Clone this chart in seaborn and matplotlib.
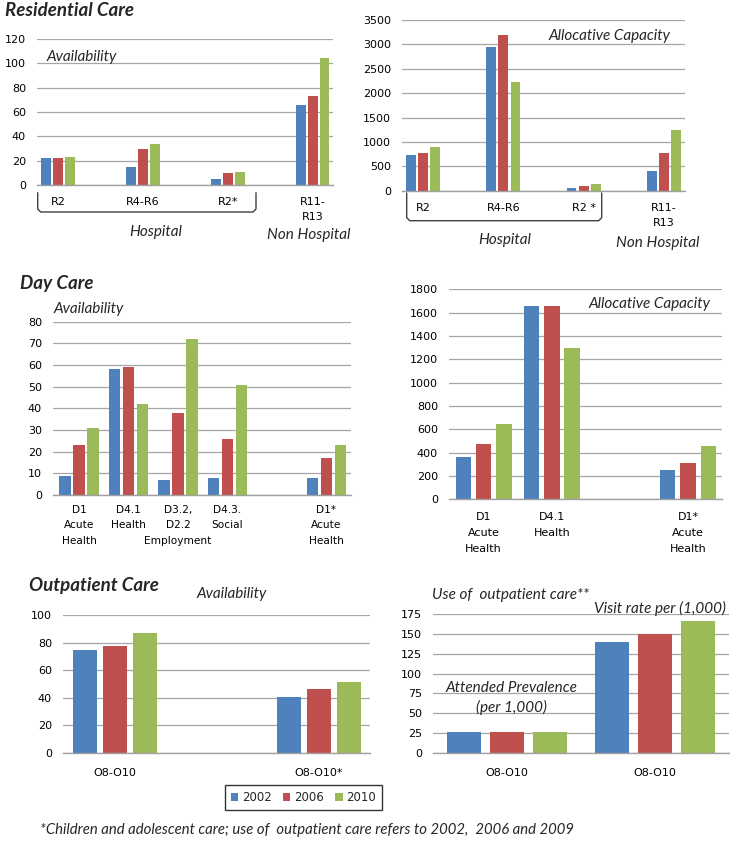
import numpy as np
import pandas as pd
import seaborn as sns
import matplotlib
matplotlib.use("Agg")
import matplotlib.pyplot as plt
from matplotlib.lines import Line2D
from matplotlib.patches import Patch

# ---------------- data ----------------
YEARS = ["2002", "2006", "2010"]
COLORS = ["#4F81BD", "#C0504D", "#9BBB59"]

res_cats = ["R2", "R4-R6", "R2*", "R11-R13"]
res_ticks = ["R2", "R4-R6", "R2*", "R11-\nR13"]
res_cap_ticks = ["R2", "R4-R6", "R2 *", "R11-\nR13"]
res_avail_2002 = [22, 15, 5, 66]
res_avail_2006 = [22, 30, 10, 73.5]
res_avail_2010 = [23, 34, 11, 104.5]
res_cap_2002 = [730, 2950, 50, 410]
res_cap_2006 = [780, 3200, 95, 780]
res_cap_2010 = [890, 2220, 145, 1240]

day_cats = ["D1", "D4.1", "D3.2", "D4.3", "D1*"]
day_order = ["D1", "D4.1", "D3.2", "D4.3", "_blank", "D1*"]
day_ticks = ["D1\nAcute\nHealth", "D4.1\nHealth", "D3.2,\nD2.2\nEmployment",
             "D4.3.\nSocial", "", "D1*\nAcute\nHealth"]
day_avail_2002 = [9, 58, 7, 8, 8]
day_avail_2006 = [23, 59, 38, 26, 17]
day_avail_2010 = [31, 42, 72, 51, 23]

dayc_cats = ["D1", "D4.1", "D1*"]
dayc_order = ["D1", "D4.1", "_blank", "D1*"]
dayc_ticks = ["D1\nAcute\nHealth", "D4.1\nHealth", "", "D1*\nAcute\nHealth"]
day_cap_2002 = [360, 1655, 250]
day_cap_2006 = [475, 1655, 310]
day_cap_2010 = [645, 1300, 455]

out_cats = ["O8-O10", "O8-O10*"]
out_ticks = ["O8-O10", "O8-O10*"]
out_avail_2002 = [74.5, 40.5]
out_avail_2006 = [77.5, 46.5]
out_avail_2010 = [87, 51]

use_cats = ["Prevalence", "Visits"]
use_ticks = ["O8-O10", "O8-O10"]
use_2002 = [26, 140]
use_2006 = [26, 150]
use_2010 = [26, 166]

# ---------------- style ----------------
sns.set_style("white")
plt.rcParams["font.family"] = ["DejaVu Sans"]
ANN = ["Lato", "DejaVu Sans"]

W, H = 733, 841
fig = plt.figure(figsize=(W / 100, H / 100), dpi=100)


def px_axes(x0, y0, x1, y1):
    return fig.add_axes([x0 / W, 1 - y1 / H, (x1 - x0) / W, (y1 - y0) / H])


def panel(ax, cats, order, ticks, v02, v06, v10, ymax, step, xlim, width, gap,
          pad, xsize=8):
    n = len(cats)
    df = pd.DataFrame({
        "cat": cats * 3,
        "year": np.repeat(YEARS, n),
        "value": list(v02) + list(v06) + list(v10),
    })
    sns.barplot(data=df, x="cat", y="value", hue="year", order=order,
                hue_order=YEARS, palette=COLORS, width=width, gap=gap,
                errorbar=None, legend=False, saturation=1, linewidth=0, ax=ax)
    ax.set_xlim(*xlim)
    ax.set_ylim(0, ymax)
    ax.set_yticks(np.arange(0, ymax + step / 2, step))
    ax.set_xticks(range(len(order)))
    ax.set_xticklabels(ticks)
    ax.set_xlabel("")
    ax.set_ylabel("")
    ax.yaxis.grid(True, color="#a6a6a6", lw=0.9)
    ax.set_axisbelow(True)
    for s in ["top", "right", "left"]:
        ax.spines[s].set_visible(False)
    ax.spines["bottom"].set_color("#a0a0a0")
    ax.spines["bottom"].set_linewidth(1)
    ax.tick_params(axis="both", length=0, labelsize=8, colors="black")
    ax.tick_params(axis="y", pad=8)
    ax.tick_params(axis="x", pad=pad, labelsize=xsize)
    for lbl in ax.get_xticklabels():
        lbl.set_linespacing(1.7)
    ax.patch.set_alpha(0)


def ftext(x, y, s, size=11, style="italic", weight="normal", ha="center", **kw):
    fig.text(x / W, 1 - y / H, s, ha=ha, va="center", fontsize=size,
             style=style, weight=weight, family=ANN, **kw)


def bracket(x1, x2, ytop, ybot):
    xs = [x1, x1, x1 + 3, x2 - 3, x2, x2]
    ys = [ytop, ybot - 3, ybot, ybot, ybot - 3, ytop]
    fig.add_artist(Line2D([x / W for x in xs], [1 - y / H for y in ys],
                          color="#404040", lw=1))


# ---------------- panels ----------------
ax1 = px_axes(37, 39, 333, 185)
panel(ax1, res_cats, res_cats, res_ticks, res_avail_2002, res_avail_2006,
      res_avail_2010, 120, 20, (-0.25, 3.24), 0.42, 0.17, 8.5)

ax2 = px_axes(402, 20, 685, 190.7)
panel(ax2, res_cats, res_cats, res_cap_ticks, res_cap_2002, res_cap_2006,
      res_cap_2010, 3500, 500, (-0.26, 3.26), 0.45, 0.2, 8.5)

ax3 = px_axes(53, 321.7, 351, 495)
panel(ax3, day_cats, day_order, day_ticks, day_avail_2002, day_avail_2006,
      day_avail_2010, 80, 10, (-0.53, 5.5), 0.85, 0.18, 7, xsize=7.6)

ax4 = px_axes(449, 289.3, 722, 499.3)
panel(ax4, dayc_cats, dayc_order, dayc_ticks, day_cap_2002, day_cap_2006,
      day_cap_2010, 1800, 200, (-0.51, 3.5), 0.9, 0.24, 9.5)

ax5 = px_axes(63, 615, 370, 752.7)
panel(ax5, out_cats, out_cats, out_ticks, out_avail_2002, out_avail_2006,
      out_avail_2010, 100, 20, (-0.255, 1.25), 0.44, 0.22, 11)

ax6 = px_axes(433, 614.3, 729, 752.7)
panel(ax6, use_cats, use_cats, use_ticks, use_2002, use_2006, use_2010,
      175, 25, (-0.5, 1.5), 0.87, 0.2, 11)

# ---------------- annotations ----------------
ftext(5, 10, "Residential Care", size=13.5, weight="bold", ha="left")
ftext(20, 284, "Day Care", size=13.5, weight="bold", ha="left")
ftext(29, 585, "Outpatient Care", size=13.5, weight="bold", ha="left")

ftext(47, 57, "Availability", ha="left")
ftext(156, 232, "Hospital")
ftext(309, 235, "Non Hospital")
bracket(37.7, 256, 192.7, 212)

ftext(610, 36, "Allocative Capacity")
ftext(505, 240, "Hospital")
ftext(658, 242.7, "Non Hospital")
bracket(406.7, 601.7, 193, 220.7)

ftext(54, 309, "Availability", ha="left")
ftext(650, 304, "Allocative Capacity")

ftext(232, 594, "Availability")
ftext(510, 595, "Use of  outpatient care**")
ftext(660, 608, "Visit rate per (1,000)")
ftext(511, 688, "Attended Prevalence")
ftext(511, 707, "(per 1,000)")

ftext(40, 830, "*Children and adolescent care; use of  outpatient care refers to 2002,  2006 and 2009",
      size=10.7, ha="left")

handles = [Patch(facecolor=c, edgecolor="none") for c in COLORS]
leg = fig.legend(handles, YEARS, loc="center",
                 bbox_to_anchor=(303.5 / W, 1 - 797.5 / H), ncol=3,
                 frameon=True, fancybox=False, edgecolor="black",
                 fontsize=8.5, handlelength=0.6, handleheight=0.6,
                 handletextpad=0.3, columnspacing=1.0, borderpad=0.5)
leg.get_frame().set_linewidth(1)

fig.savefig("out.png", dpi=100)
